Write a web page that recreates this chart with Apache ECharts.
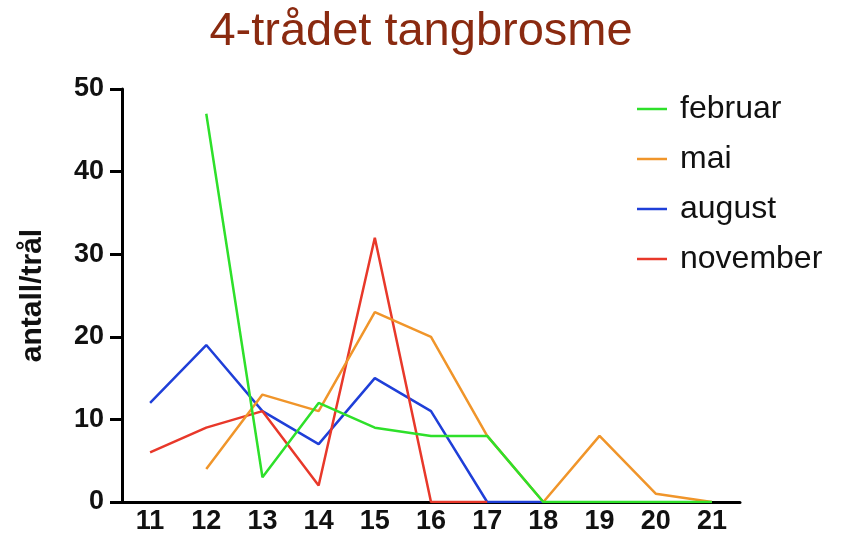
<!DOCTYPE html>
<html><head><meta charset="utf-8">
<script src="https://cdn.jsdelivr.net/npm/echarts@6/dist/echarts.min.js"></script>
<style>html,body{margin:0;padding:0;background:#fff}#c{width:844px;height:539px}</style>
</head><body><div id="c"></div>
<script>
const categories = ['11','12','13','14','15','16','17','18','19','20','21'];
const februar  = [null,47,3,12,9,8,8,0,0,0,0];
const mai      = [null,4,13,11,23,20,8,0,8,1,0];
const august   = [12,19,11,7,15,11,0,0,null,null,null];
const november = [6,9,11,2,32,0,0,null,null,null,null];
const yTicks = [0,10,20,30,40,50];

const font = '"Liberation Sans", Arial, Helvetica, sans-serif';
const chart = echarts.init(document.getElementById('c'));
function s(name, data, color){
  return {name, type:'line', data, symbol:'none', connectNulls:false,
    lineStyle:{color, width:2.5}, itemStyle:{color}, emphasis:{disabled:true}};
}
chart.setOption({
  animation:false,
  textStyle:{fontFamily:font},
  title:{text:'4-trådet tangbrosme', left:416, top:4, textAlign:'center',
    textStyle:{fontFamily:font, fontSize:47, fontWeight:'normal', color:'#8a2a10'}},
  legend:{data:['februar','mai','august','november'], orient:'vertical', left:632, top:88,
    icon:'rect', itemWidth:30, itemHeight:2.5, itemGap:18,
    textStyle:{fontFamily:font, fontSize:32, lineHeight:32, color:'#111', padding:[0,0,0,8]}},
  grid:{left:122, right:104, top:89, bottom:37},
  xAxis:{type:'category', data:categories, boundaryGap:true,
    axisLine:{lineStyle:{color:'#000', width:3}}, axisTick:{show:false},
    axisLabel:{fontFamily:font, fontSize:27, fontWeight:'bold', color:'#111', margin:6}},
  yAxis:{type:'value', min:yTicks[0], max:yTicks[yTicks.length-1], interval:10,
    name:'antall/trål', nameLocation:'middle', nameGap:74, nameRotate:90,
    nameTextStyle:{fontFamily:font, fontSize:30, fontWeight:'bold', color:'#111'},
    axisLine:{show:true, lineStyle:{color:'#000', width:3}},
    axisTick:{show:true, length:12, lineStyle:{color:'#000', width:3}},
    splitLine:{show:false},
    axisLabel:{fontFamily:font, fontSize:27, fontWeight:'bold', color:'#111', margin:18}},
  series:[
    s('august', august, '#1f3fd8'),
    s('november', november, '#e8382a'),
    s('mai', mai, '#f0952a'),
    s('februar', februar, '#2ee02a')
  ]
});
</script></body></html>
